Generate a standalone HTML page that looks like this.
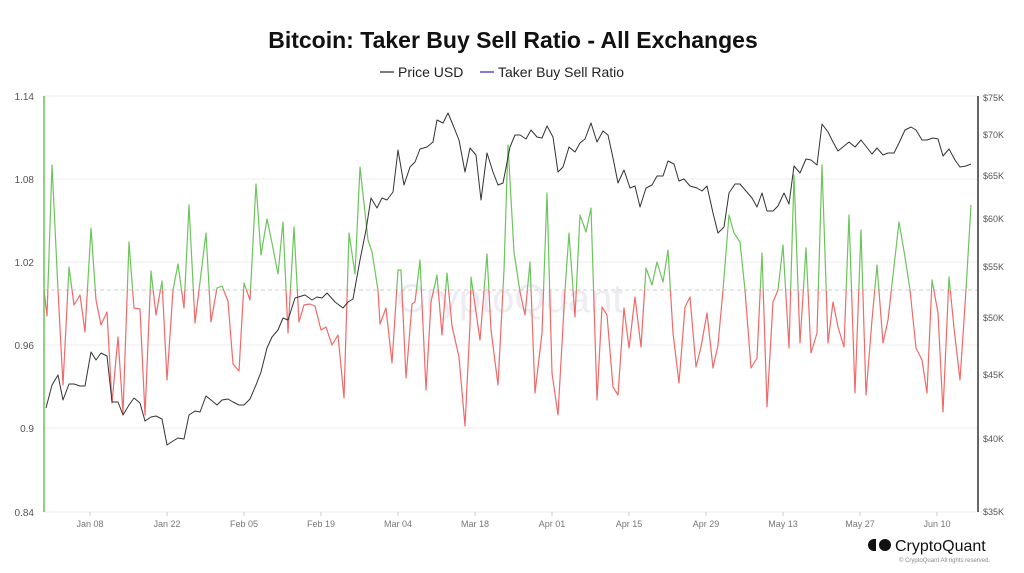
<!DOCTYPE html>
<html><head><meta charset="utf-8"><style>
body{margin:0;background:#fff;}
svg{display:block;font-family:"Liberation Sans",sans-serif;}
</style></head><body>
<svg width="1024" height="573" viewBox="0 0 1024 573">
<rect width="1024" height="573" fill="#fff"/>
<text x="513" y="48" text-anchor="middle" font-size="23" font-weight="bold" fill="#111">Bitcoin: Taker Buy Sell Ratio - All Exchanges</text>
<line x1="380" y1="72" x2="394" y2="72" stroke="#222" stroke-width="1.2"/>
<text x="398" y="77" font-size="14" fill="#222">Price USD</text>
<line x1="480" y1="72" x2="494" y2="72" stroke="#5b4fd6" stroke-width="1.5"/>
<text x="498" y="77" font-size="14" fill="#222">Taker Buy Sell Ratio</text>
<g stroke="#eee" stroke-width="1">
<line x1="44" y1="96" x2="977" y2="96"/><line x1="44" y1="179" x2="977" y2="179"/>
<line x1="44" y1="262" x2="977" y2="262"/><line x1="44" y1="345" x2="977" y2="345"/>
<line x1="44" y1="428" x2="977" y2="428"/><line x1="44" y1="512" x2="977" y2="512"/>
</g>
<g font-size="10" fill="#555" text-anchor="end">
<text x="34" y="100">1.14</text><text x="34" y="183">1.08</text><text x="34" y="266">1.02</text>
<text x="34" y="349">0.96</text><text x="34" y="432">0.9</text><text x="34" y="516">0.84</text>
</g>
<g font-size="9" fill="#555">
<text x="983" y="101">$75K</text><text x="983" y="138">$70K</text><text x="983" y="179">$65K</text>
<text x="983" y="222">$60K</text><text x="983" y="270">$55K</text><text x="983" y="321">$50K</text>
<text x="983" y="378">$45K</text><text x="983" y="442">$40K</text><text x="983" y="515">$35K</text>
</g>
<g font-size="9" fill="#777" text-anchor="middle" stroke="none">
<text x="90" y="527">Jan 08</text><text x="167" y="527">Jan 22</text><text x="244" y="527">Feb 05</text>
<text x="321" y="527">Feb 19</text><text x="398" y="527">Mar 04</text><text x="475" y="527">Mar 18</text>
<text x="552" y="527">Apr 01</text><text x="629" y="527">Apr 15</text><text x="706" y="527">Apr 29</text>
<text x="783" y="527">May 13</text><text x="860" y="527">May 27</text><text x="937" y="527">Jun 10</text>
</g>
<g stroke="#ccc"><line x1="90" y1="512" x2="90" y2="516"/><line x1="167" y1="512" x2="167" y2="516"/><line x1="244" y1="512" x2="244" y2="516"/><line x1="321" y1="512" x2="321" y2="516"/><line x1="398" y1="512" x2="398" y2="516"/><line x1="475" y1="512" x2="475" y2="516"/><line x1="552" y1="512" x2="552" y2="516"/><line x1="629" y1="512" x2="629" y2="516"/><line x1="706" y1="512" x2="706" y2="516"/><line x1="783" y1="512" x2="783" y2="516"/><line x1="860" y1="512" x2="860" y2="516"/><line x1="937" y1="512" x2="937" y2="516"/></g>
<line x1="978" y1="96" x2="978" y2="512" stroke="#333" stroke-width="1.5"/>
<text x="510" y="312" text-anchor="middle" font-size="40" fill="#ececf2">CryptoQuant</text>
<line x1="44" y1="290" x2="977" y2="290" stroke="#ccc" stroke-dasharray="4,3"/>
<defs>
<clipPath id="top"><rect x="0" y="0" width="1024" height="290"/></clipPath>
<clipPath id="bot"><rect x="0" y="290" width="1024" height="300"/></clipPath>
</defs>
<g id="ratio">
<polyline id="rl" fill="none" stroke-width="1.2" stroke-linejoin="round" points="44,290 47,316 52,165 58,290 63,385 69,267 74,305 80,295 85,332 91,228 96,300 101,325 107,312 112,403 118,337 123,413 129,242 134,308 140,309 145,415 151,271 156,315 162,281 167,380 173,290 178,264 184,308 189,205 195,323 200,282 206,233 211,322 217,288 222,286 228,301 233,364 239,371 244,283 250,300 256,184 261,255 267,219 272,243 278,274 283,222 288,333 294,227 299,322 304,305 310,304 315,306 321,330 326,327 332,345 338,335 344,398 349,233 355,274 360,167 368,240 372,252 378,290 380,324 386,308 392,363 398,270 401,270 406,378 412,304 415,302 420,260 426,390 431,302 437,275 442,335 447,273 452,326 459,357 465,426 470,325 471,277 480,340 487,254 491,330 498,385 504,270 508,145 514,252 520,292 525,315 530,262 535,393 542,333 547,193 552,373 558,415 565,290 569,233 575,317 580,215 586,232 591,208 597,400 602,307 607,315 613,387 618,395 624,308 629,348 635,297 641,347 646,268 652,285 657,262 663,282 668,250 673,333 679,383 685,307 690,297 696,367 701,347 707,313 713,368 718,345 723,290 729,215 734,233 740,242 745,290 751,368 757,358 762,253 767,407 773,302 778,290 783,245 789,348 794,175 800,343 806,248 811,353 817,333 822,165 828,343 833,302 838,327 844,347 849,215 855,393 861,230 866,395 872,320 877,265 883,343 888,320 899,222 905,257 910,290 916,348 922,360 927,393 932,280 938,313 943,412 949,277 954,328 960,380 966,290 971,205"/>
</g>
<use href="#rl" stroke="#6cc45c" clip-path="url(#top)"/>
<use href="#rl" stroke="#f06a6a" clip-path="url(#bot)"/>
<line x1="44" y1="96" x2="44" y2="512" stroke="#6cc45c" stroke-width="1.5"/>
<polyline fill="none" stroke="#333" stroke-width="1" stroke-linejoin="round" points="46,408 52,385 58,375 63,400 69,384 74,384 80,386 85,386 91,352 96,360 101,353 107,356 112,402 118,402 123,415 129,405 134,398 140,403 145,421 151,417 156,416 162,419 167,445 173,441 178,438 184,439 189,415 195,411 200,412 206,396 211,400 217,405 222,400 228,399 233,402 239,405 244,405 250,399 256,385 261,372 267,348 272,337 278,330 283,318 288,320 295,298 305,295 312,300 317,297 322,298 327,293 335,302 343,308 348,302 353,299 360,260 366,230 371,198 377,208 382,198 387,200 393,192 398,150 404,185 410,167 415,162 420,149 427,147 433,142 437,120 443,123 448,113 453,125 459,140 465,172 470,148 476,155 481,200 487,153 493,172 498,185 503,183 510,147 515,135 520,135 526,139 531,130 537,137 542,138 547,126 553,137 558,172 563,167 569,147 575,152 580,143 585,139 591,123 597,142 603,131 608,135 613,158 618,183 624,170 630,188 635,186 640,207 646,188 652,185 657,176 663,176 668,161 674,164 679,181 684,179 690,186 697,188 702,191 707,186 713,213 718,233 724,227 729,193 735,184 740,184 746,191 752,198 757,207 762,193 767,211 773,211 778,206 784,193 789,204 794,166 800,173 806,159 811,160 817,165 822,124 828,132 833,142 838,151 849,142 855,147 861,140 872,154 877,148 883,155 888,153 894,153 899,143 905,130 911,127 916,130 922,140 927,140 933,138 938,139 943,156 949,149 955,160 960,167 966,166 971,164"/>
<g fill="#111">
<path d="M874,539 a6,6 0 0 0 0,12 z"/><rect x="873" y="539" width="3" height="12"/>
<circle cx="885" cy="545" r="6"/>
</g>
<text x="895" y="551" font-size="16" fill="#111">CryptoQuant</text>
<text x="899" y="562" font-size="6" fill="#888">© CryptoQuant All rights reserved.</text>
</svg>
</body></html>
